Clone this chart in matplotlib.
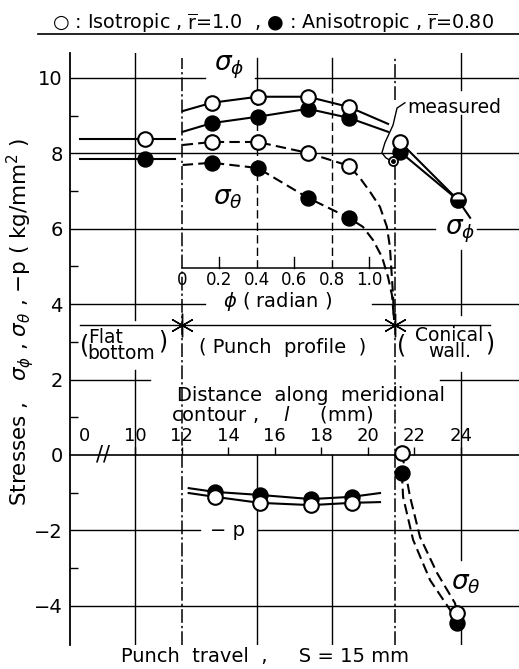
import numpy as np
import matplotlib
matplotlib.use("Agg")
import matplotlib.pyplot as plt

plt.rcParams['font.family'] = ['DejaVu Sans']
plt.rcParams['mathtext.fontset'] = 'dejavusans'

# punch profile: l = 12 + R * phi  (mm)
L_EDGE = 12.0
R_PUNCH = 8.065

# -------- data --------
# flat bottom (sigma_phi = sigma_theta)
flat_l = [10.41]
flat_iso = [8.38]
flat_aniso = [7.85]
flat_line_l = [7.61, 11.70]

# punch profile, against phi (radian)
phi_pts = [0.16, 0.405, 0.672, 0.89]
sphi_iso = [9.34, 9.50, 9.50, 9.23]
sphi_aniso = [8.80, 8.97, 9.18, 8.94]
sth_iso = [8.30, 8.30, 8.01, 7.67]
sth_aniso = [7.75, 7.61, 6.82, 6.29]

# traced curves through the points
sphi_line_phi = [0.005, 0.16, 0.405, 0.672, 0.89, 1.099]
sphi_iso_line = [9.12, 9.34, 9.50, 9.50, 9.23, 8.78]
sphi_aniso_line = [8.57, 8.80, 8.97, 9.18, 8.94, 8.57]
sth_iso_phi = [0.005, 0.16, 0.405, 0.672, 0.89, 0.949, 1.003, 1.056, 1.093, 1.109, 1.125, 1.131]
sth_iso_line = [8.22, 8.30, 8.30, 8.01, 7.67, 7.35, 6.98, 6.58, 6.05, 5.52, 4.30, 3.58]
sth_aniso_phi = [0.005, 0.16, 0.405, 0.672, 0.89, 0.965, 1.019, 1.067, 1.099, 1.120, 1.131]
sth_aniso_line = [7.69, 7.75, 7.61, 6.82, 6.29, 6.05, 5.70, 5.25, 4.72, 4.24, 3.58]

# contact pressure -p
p_l = [13.42, 15.35, 17.55, 19.31]
p_iso = [-1.11, -1.27, -1.33, -1.27]
p_aniso = [-0.98, -1.06, -1.17, -1.11]
p_line_l = [12.30, 13.42, 15.35, 17.55, 19.31, 20.52]
p_iso_line = [-1.01, -1.11, -1.27, -1.33, -1.27, -1.25]
p_aniso_line = [-0.88, -0.98, -1.06, -1.17, -1.11, -1.01]

# conical wall
cphi_l = [21.38, 23.87]
cphi_iso = [8.30, 6.76]
cphi_aniso = [8.04, 6.76]
cphi_iso_line_l = [21.38, 23.87, 24.39]
cphi_iso_line = [8.30, 6.76, 6.29]
measured_l = [21.08]
measured = [7.80]
cth_l = [21.46, 23.83]
cth_iso = [0.05, -4.19]
cth_aniso = [-0.48, -4.46]
cth_iso_line_l = [21.46, 21.81, 22.24, 22.97, 23.74, 23.83]
cth_iso_line = [0.05, -1.11, -2.18, -3.13, -3.93, -4.19]
cth_aniso_line_l = [21.46, 21.51, 21.94, 22.67, 23.53, 23.83]
cth_aniso_line = [-0.48, -1.11, -2.25, -3.32, -4.11, -4.46]

# leader line of "measured"
lead_l = [21.59, 21.25, 21.08, 20.73, 20.60, 20.77, 20.99]
lead_v = [9.34, 9.20, 8.75, 8.28, 8.01, 7.88, 7.80]

# axis ticks
x_tick_pos = [7.83, 10, 12, 14, 16, 18, 20, 22, 24]
x_tick_lab = ["0", "10", "12", "14", "16", "18", "20", "22", "24"]
phi_ticks = [0, 0.2, 0.4, 0.6, 0.8, 1.0]
phi_labels = ["0", "0.2", "0.4", "0.6", "0.8", "1.0"]
phi_end = 1.135


def to_l(phi):
    return L_EDGE + R_PUNCH * np.asarray(phi)


fig = plt.figure(figsize=(5.19, 6.69), dpi=100)
ax = fig.add_axes([69.5 / 519, 24 / 669, 1 - 69.5 / 519, 592 / 669])
ax.set_xlim(7.18, 26.49)
ax.set_ylim(-5.04, 10.66)

for s in ['right', 'bottom']:
    ax.spines[s].set_visible(False)
ax.spines['left'].set_linewidth(1.3)
ax.spines['top'].set_position(('data', 0))
ax.spines['top'].set_linewidth(1.2)
ax.xaxis.set_ticks_position('top')
ax.set_xticks(x_tick_pos, x_tick_lab, fontsize=13)
ax.tick_params(axis='x', direction='out', length=6, width=1.0, pad=1)
ax.xaxis.get_major_ticks()[0].tick2line.set_visible(False)
ax.set_yticks(range(-4, 11, 2), ["\u22124", "\u22122", "0", "2", "4", "6", "8", "10"], fontsize=14)
ax.set_yticks(range(-3, 11, 2), minor=True)
ax.tick_params(axis='y', which='major', length=0, pad=5)
ax.tick_params(axis='y', which='minor', direction='in', length=6, width=1.0)

# -------- grid segments --------
gk = dict(color='k', lw=1.0, zorder=1)
hgrid = {10: [(7.18, 12.99), (15.14, 26.5)],
         8: [(7.18, 21.16), (22.11, 26.5)],
         6: [(7.18, 22.88), (24.69, 26.5)],
         4: [(7.18, 12.99), (20.17, 26.5)],
         2: [(7.18, 10.62), (23.10, 26.5)],
         -2: [(7.18, 12.77), (15.27, 26.5)],
         -4: [(7.18, 26.5)]}
for v, segs in hgrid.items():
    for a, b in segs:
        ax.plot([a, b], [v, v], **gk)

vgrid = {9.98: [(3.58, 10.69), (-5.04, 2.25)],
         24.0: [(9.68, 10.74), (6.90, 9.02), (3.71, 5.44), (-2.79, 2.20), (-5.04, -4.51)]}
for lpos, segs in vgrid.items():
    for a, b in segs:
        ax.plot([lpos, lpos], [a, b], **gk)
for ph in [0.4, 0.8]:
    lp = to_l(ph)
    ax.plot([lp, lp], [9.7, 10.53], **gk)
    ax.plot([lp, lp], [4.96, 9.7], color='k', lw=1.0, ls=(0, (6, 3)), zorder=1)
    ax.plot([lp, lp], [-5.04, 0], **gk)

dd = (0, (9, 2, 1.5, 2))
ax.plot([12, 12], [-5.04, 10.53], color='k', lw=1.1, ls=dd, zorder=1)
ax.plot([21.16, 21.16], [-5.04, 7.69], color='k', lw=1.1, ls=dd, zorder=1)
ax.plot([21.16, 21.16], [9.42, 10.53], color='k', lw=1.1, ls=dd, zorder=1)

# inset phi axis
ax.plot([12, to_l(phi_end)], [4.96, 4.96], color='k', lw=1.1, zorder=1)
for ph, lab in zip(phi_ticks, phi_labels):
    if ph in (0.2, 0.6, 1.0):
        ax.plot([to_l(ph)] * 2, [4.96, 5.25], color='k', lw=1.0)
    ax.text(to_l(ph), 4.64, lab, fontsize=12, ha='center', va='center')
ax.text(16.13, 4.08, r"$\phi$ ( radian )", fontsize=14, ha='center', va='center')

# section separator
ax.plot([7.61, 25.25], [3.45, 3.45], color='k', lw=1.0)
ax.plot([12, 21.16], [3.45, 3.45], ls='none', marker=(6, 2, 0), ms=17, mew=1.0, color='k')

# break mark
ax.text(8.60, 0.0, "//", fontsize=15, ha='center', va='center')

# -------- data --------
lk = dict(color='k', lw=1.5, zorder=2)
dk = dict(color='k', lw=1.5, ls=(0, (5, 2.5)), zorder=2)
fk = dict(ls='none', marker='o', ms=10.5, mfc='k', mec='k', mew=1.3, zorder=4)
ok = dict(ls='none', marker='o', ms=10.5, mfc='white', mec='k', mew=1.5, zorder=5)

# flat bottom
ax.plot(flat_line_l, [flat_iso[0]] * 2, **lk)
ax.plot(flat_line_l, [flat_aniso[0]] * 2, **lk)
ax.plot(flat_l, flat_aniso, **fk)
ax.plot(flat_l, flat_iso, **ok)

# punch profile
ax.plot(to_l(sphi_line_phi), sphi_iso_line, **lk)
ax.plot(to_l(sphi_line_phi), sphi_aniso_line, **lk)
ax.plot(to_l(sth_iso_phi), sth_iso_line, **dk)
ax.plot(to_l(sth_aniso_phi), sth_aniso_line, **dk)
ax.plot(to_l(phi_pts), sphi_aniso, **fk)
ax.plot(to_l(phi_pts), sth_aniso, **fk)
ax.plot(to_l(phi_pts), sphi_iso, **ok)
ax.plot(to_l(phi_pts), sth_iso, **ok)

# -p
ax.plot(p_line_l, p_iso_line, **lk)
ax.plot(p_line_l, p_aniso_line, **lk)
ax.plot(p_l, p_aniso, **fk)
ax.plot(p_l, p_iso, **ok)

# conical wall, sigma_phi
ax.plot(cphi_iso_line_l, cphi_iso_line, **lk)
ax.plot(cphi_l, cphi_aniso, **lk)
ax.plot(cphi_l[:1], cphi_aniso[:1], **fk)
ax.plot(cphi_l[:1], cphi_iso[:1], **ok)
ax.plot(cphi_l[1:], cphi_iso[1:], ls='none', marker='o', ms=10.5, mec='k', mew=1.5,
        fillstyle='bottom', mfc='k', mfcalt='white', zorder=5)
ax.plot(measured_l, measured, ls='none', marker='o', ms=6.5, mfc='white', mec='k', mew=1.3, zorder=5)
ax.plot(measured_l, measured, ls='none', marker='o', ms=2.5, color='k', zorder=6)
ax.plot(lead_l, lead_v, color='k', lw=1.0, zorder=3)
ax.text(21.68, 9.22, "measured", fontsize=13.5, ha='left', va='center')

# conical wall, sigma_theta
ax.plot(cth_iso_line_l, cth_iso_line, **dk)
ax.plot(cth_aniso_line_l, cth_aniso_line, **dk)
ax.plot(cth_l, cth_aniso, **fk)
ax.plot(cth_l, cth_iso, **ok)

# -------- labels --------
ax.text(14.06, 10.27, r"$\sigma_\phi$", fontsize=19, ha='center', va='center')
ax.text(13.98, 6.82, r"$\sigma_\theta$", fontsize=19, ha='center', va='center')
ax.text(23.96, 5.92, r"$\sigma_\phi$", fontsize=19, ha='center', va='center')
ax.text(24.20, -3.40, r"$\sigma_\theta$", fontsize=19, ha='center', va='center')
ax.text(13.98, -2.0, "\u2212 p", fontsize=14, ha='center', va='center')

ax.text(7.61, 2.89, "(", fontsize=17, ha='left', va='center')
ax.text(7.96, 2.89, "Flat\nbottom", fontsize=13.5, ha='left', va='center', linespacing=0.8)
ax.text(11.18, 3.0, ")", fontsize=17, ha='center', va='center')
ax.text(16.34, 2.84, "( Punch  profile  )", fontsize=14, ha='center', va='center')
ax.text(21.46, 2.9, "(", fontsize=17, ha='center', va='center')
ax.text(23.5, 2.95, "Conical\nwall.", fontsize=13.5, ha='center', va='center', linespacing=0.8)
ax.text(25.25, 2.95, ")", fontsize=17, ha='center', va='center')

ax.text(17.55, 1.59, "Distance  along  meridional", fontsize=14, ha='center', va='center')
ax.text(15.87, 1.06, r"contour ,    $l$     (mm)", fontsize=14, ha='center', va='center')

fig.text(52 / 519, 1 - 23 / 669,
         "\u25cb : Isotropic , $\\overline{\\mathrm{r}}$=1.0  , \u25cf : Anisotropic , $\\overline{\\mathrm{r}}$=0.80",
         fontsize=13.8, ha='left', va='center')
fig.add_artist(plt.Line2D([38 / 519, 1.0], [1 - 34 / 669] * 2, color='k', lw=1.2))

fig.text(20 / 519, 1 - 322 / 669,
         r"Stresses ,   $\sigma_\phi$ , $\sigma_\theta$ , $-$p ( kg/mm$^2$ )",
         fontsize=15.5, rotation=90, ha='center', va='center')
fig.text(265 / 519, 1 - 657 / 669, "Punch  travel  ,     S = 15 mm", fontsize=14, ha='center', va='center')

fig.savefig("out.png", dpi=100)
